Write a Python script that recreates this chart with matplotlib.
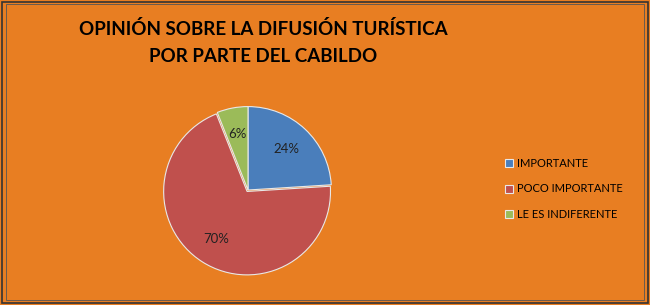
import matplotlib.pyplot as plt
from matplotlib.patches import Rectangle

# Datos del gráfico
categorias = ["IMPORTANTE", "POCO IMPORTANTE", "LE ES INDIFERENTE"]
valores = [24, 70, 6]
colores = ["#4A7EBB", "#C0504D", "#9BBB59"]
fondo = "#E87E22"

plt.rcParams['font.family'] = ['Lato', 'DejaVu Sans']

fig = plt.figure(figsize=(6.5, 3.05), dpi=100, facecolor=fondo)

# Marco exterior
fig.patches.append(Rectangle((0.003, 0.005), 0.994, 0.99, transform=fig.transFigure,
                             fill=False, edgecolor="#333333", linewidth=1.2))
fig.patches.append(Rectangle((0.009, 0.015), 0.982, 0.972, transform=fig.transFigure,
                             fill=False, edgecolor="#555555", linewidth=0.6))

fig.text(0.405, 0.935, "OPINIÓN SOBRE LA DIFUSIÓN TURÍSTICA\nPOR PARTE DEL CABILDO",
         ha="center", va="top", fontsize=13.5, fontweight="bold", color="black",
         linespacing=1.75)

# Pastel: centro ~ (248, 190) px, radio ~ 84 px
r = 86
ax = fig.add_axes([(248 - r) / 650, (305 - 190 - r) / 305, 2 * r / 650, 2 * r / 305])
ax.set_facecolor(fondo)
wedges, textos, autotextos = ax.pie(
    valores, colors=colores, startangle=90, counterclock=False,
    autopct="%d%%", pctdistance=0.68, radius=0.97,
    explode=[0, 0.02, 0],
    wedgeprops=dict(edgecolor="#E8E8E8", linewidth=0.8),
    textprops=dict(fontsize=9.5, color="#222222"))
ax.set_xlim(-1, 1)
ax.set_ylim(-1, 1)
ax.set_aspect("equal")

leg = fig.legend(wedges, categorias, loc="center left",
                 bbox_to_anchor=(495 / 650, 1 - 189 / 305),
                 frameon=False, fontsize=8, handlelength=0.7, handleheight=0.7,
                 handletextpad=0.4, labelspacing=1.3)

fig.savefig("out.png", dpi=100, facecolor=fondo)
